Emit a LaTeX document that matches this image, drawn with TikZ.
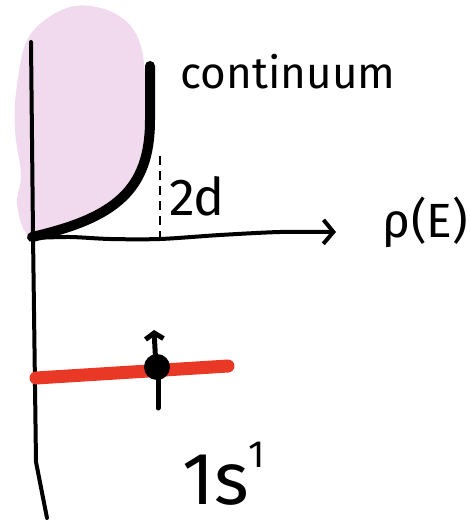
\documentclass[tikz,border=0pt]{standalone}
\usepackage{fontspec}
\setmainfont{Fira Sans}
\usetikzlibrary{arrows.meta}
\definecolor{blobpink}{RGB}{241,218,238}
\definecolor{levelred}{RGB}{234,56,38}

\begin{document}
\begin{tikzpicture}[x=1pt, y=-1pt,
  axis/.style={line width=4pt, line cap=round, line join=round},
  band/.style={line width=10pt, line cap=round, line join=round},
  level/.style={levelred, line width=13pt, line cap=round},
  lbl/.style={inner sep=0pt, font=\fontsize{44}{44}\selectfont}
]
\useasboundingbox (0,0) rectangle (470,524);
% continuum cloud
\fill[blobpink] plot[smooth cycle, tension=0.6] coordinates {
  (30,236) (17,205) (21,175) (15,130) (17,85) (30,35) (70,7) (112,12)
  (138,38) (146,90) (142,150) (120,200) (65,224)};
% axes
\draw[axis] (31,42) -- (33,235) -- (36,462) -- (47,518);
\draw[axis, -{Straight Barb[length=10pt, width=24pt]}] plot[smooth] coordinates
  {(32,238) (70,237) (110,239) (160,239) (220,235) (280,232) (336,232)};
% band edge
\draw[band] (150,66) -- (150,120) .. controls (150,190) and (115,218) .. (32,237);
\draw[line width=2.2pt, dash pattern=on 9pt off 6pt] (160,156) -- (160,238);
% 1s level with one electron
\draw[level] plot[smooth] coordinates {(36,378) (100,374) (228,366)};
\draw[line width=5pt, line cap=round] (158,367) -- (158,408);
\draw[line width=5pt, line cap=round, -{Straight Barb[length=6pt, width=18pt]}] (156,367) -- (154,330);
\fill (157,367) circle (13);
% labels
\node[lbl] (cont) at (288,72) {continuum};
\node[lbl, font=\fontsize{52}{52}\selectfont] (gap) at (197,196) {2d};
\node[lbl, font=\fontsize{48}{48}\selectfont, anchor=east] (rho) at (468,222) {ρ(E)};
\node[lbl, font=\fontsize{74}{74}\selectfont, anchor=base west] (orb) at (182,504)
  {1s\raisebox{0.5em}{\fontsize{38}{38}\selectfont 1}};
\end{tikzpicture}
\end{document}
